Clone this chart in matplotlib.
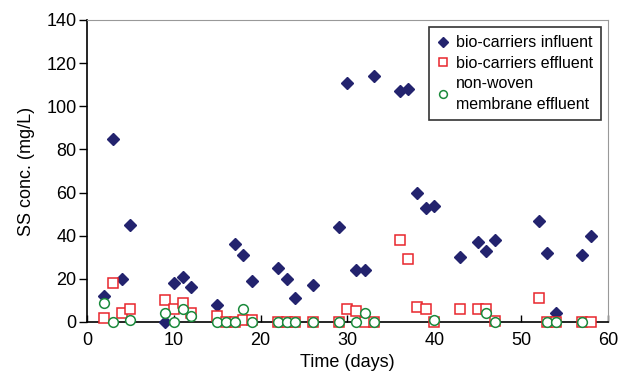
import matplotlib.pyplot as plt

plt.rcParams['font.family'] = ['Liberation Sans', 'DejaVu Sans']

# bio-carriers influent
inf_day = [2, 3, 4, 5, 9, 10, 11, 12, 15, 17, 18, 19, 22, 23, 24, 26, 29, 30, 31, 32,
           33, 36, 37, 38, 39, 40, 43, 45, 46, 47, 52, 53, 54, 57, 58]
inf_ss = [12, 85, 20, 45, 0, 18, 21, 16, 8, 36, 31, 19, 25, 20, 11, 17, 44, 111, 24, 24,
          114, 107, 108, 60, 53, 54, 30, 37, 33, 38, 47, 32, 4, 31, 40]

# bio-carriers effluent
eff_day = [2, 3, 4, 5, 9, 10, 11, 12, 15, 16, 17, 18, 19, 22, 23, 24, 26, 29, 30, 31,
           32, 33, 36, 37, 38, 39, 40, 43, 45, 46, 47, 52, 53, 54, 57, 58]
eff_ss = [2, 18, 4, 6, 10, 6, 9, 4, 3, 0, 0, 1, 1, 0, 0, 0, 0, 0, 6, 5,
          0, 0, 38, 29, 7, 6, 0, 6, 6, 6, 0.5, 11, 0, 0, 0, 0]

# non-woven membrane effluent
mem_day = [2, 3, 5, 9, 10, 11, 12, 15, 16, 17, 18, 19, 22, 23, 24, 26, 29, 31, 32, 33,
           40, 46, 47, 53, 54, 57]
mem_ss = [9, 0, 1, 4, 0, 6, 3, 0, 0, 0, 6, 0, 0, 0, 0, 0, 0, 0, 4, 0,
          1, 4, 0, 0, 0, 0]

fig = plt.figure(figsize=(6.3, 3.76), dpi=100)
ax = fig.add_axes([87/630, 1 - 322/376, (608-87)/630, (322-20)/376])

ax.plot(inf_day, inf_ss, linestyle='none', marker='D', ms=5.8, color='#23236e',
        label='bio-carriers influent', clip_on=False, zorder=3)
ax.plot(eff_day, eff_ss, linestyle='none', marker='s', ms=6.8, mfc='white', mec='#e8262c',
        mew=1.1, label='bio-carriers effluent', clip_on=False, zorder=4)
ax.plot(mem_day, mem_ss, linestyle='none', marker='o', ms=7, mfc='white', mec='#1b8a3c',
        mew=1.1, label='non-woven\nmembrane effluent', clip_on=False, zorder=5)

ax.set_xlim(0, 60)
ax.set_ylim(0, 140)
ax.set_xticks(range(0, 61, 10))
ax.set_yticks(range(0, 141, 20))
ax.tick_params(axis='x', direction='in', length=5, labelsize=13, pad=7, width=1)
ax.tick_params(axis='y', direction='out', length=6, labelsize=13, pad=1.5, width=1)

for s in ['top', 'right']:
    ax.spines[s].set_color('#999999')
for s in ['left', 'bottom']:
    ax.spines[s].set_color('black')
    ax.spines[s].set_linewidth(1.2)

ax.set_xlabel('Time (days)', fontsize=13, labelpad=4)
ax.set_ylabel('SS conc. (mg/L)', fontsize=13, labelpad=8)

leg = ax.legend(loc='upper right', fontsize=11.5, frameon=True, fancybox=False,
                edgecolor='black', borderaxespad=0.45, handletextpad=0.4,
                handlelength=0.8, borderpad=0.5, labelspacing=0.35, markerscale=0.8)
leg.get_frame().set_linewidth(1.2)
leg.get_texts()[2].set_linespacing(1.45)

fig.savefig('out.png', dpi=100)
